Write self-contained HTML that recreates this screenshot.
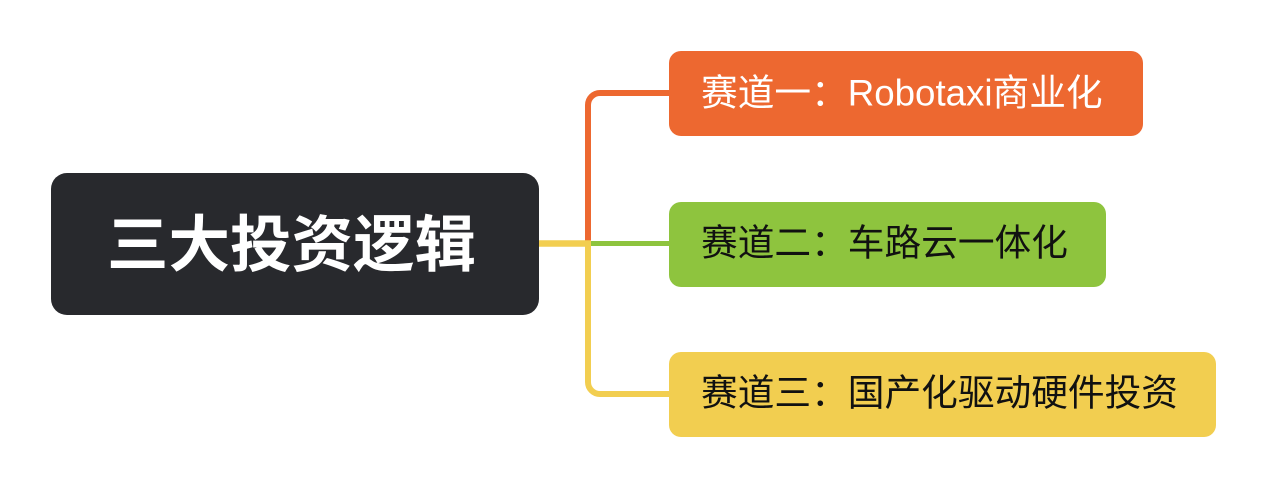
<!DOCTYPE html>
<html>
<head>
<meta charset="utf-8">
<style>
  html, body { margin:0; padding:0; background:#ffffff; }
  body { width:1267px; height:488px; overflow:hidden; }
  svg { display:block; }
  text { font-family: "Liberation Sans", "Noto Sans CJK SC", sans-serif; }
</style>
</head>
<body>
<svg width="1267" height="488" viewBox="0 0 1267 488" xmlns="http://www.w3.org/2000/svg">
  <rect x="0" y="0" width="1267" height="488" fill="#ffffff"/>

  <!-- connectors -->
  <path d="M588,243 V105 A12,12 0 0 1 600,93 H672" fill="none" stroke="#ED6830" stroke-width="6"/>
  <path d="M588,243.5 H672" fill="none" stroke="#8EC43E" stroke-width="5"/>
  <path d="M588,241 V382 A12,12 0 0 0 600,394 H672" fill="none" stroke="#F2CE50" stroke-width="6"/>
  <path d="M537,243.5 H591" fill="none" stroke="#F2CE50" stroke-width="6.5"/>

  <!-- root -->
  <rect x="51" y="173" width="488" height="142" rx="16" ry="16" fill="#28292D"/>
  <text x="107" y="266" font-size="61.5" font-weight="bold" fill="#ffffff">三大投资逻辑</text>

  <!-- branch 1 -->
  <rect x="669" y="51" width="474" height="85" rx="12" ry="12" fill="#ED6830"/>
  <text x="701" y="105.5" font-size="36.7" fill="#ffffff">赛道一：Robotaxi商业化</text>

  <!-- branch 2 -->
  <rect x="669" y="202" width="437" height="85" rx="12" ry="12" fill="#8EC43E"/>
  <text x="701" y="255.5" font-size="36.7" fill="#111111">赛道二：车路云一体化</text>

  <!-- branch 3 -->
  <rect x="669" y="352" width="547" height="85" rx="12" ry="12" fill="#F2CE50"/>
  <text x="701" y="405.5" font-size="36.7" fill="#111111">赛道三：国产化驱动硬件投资</text>
</svg>
</body>
</html>
